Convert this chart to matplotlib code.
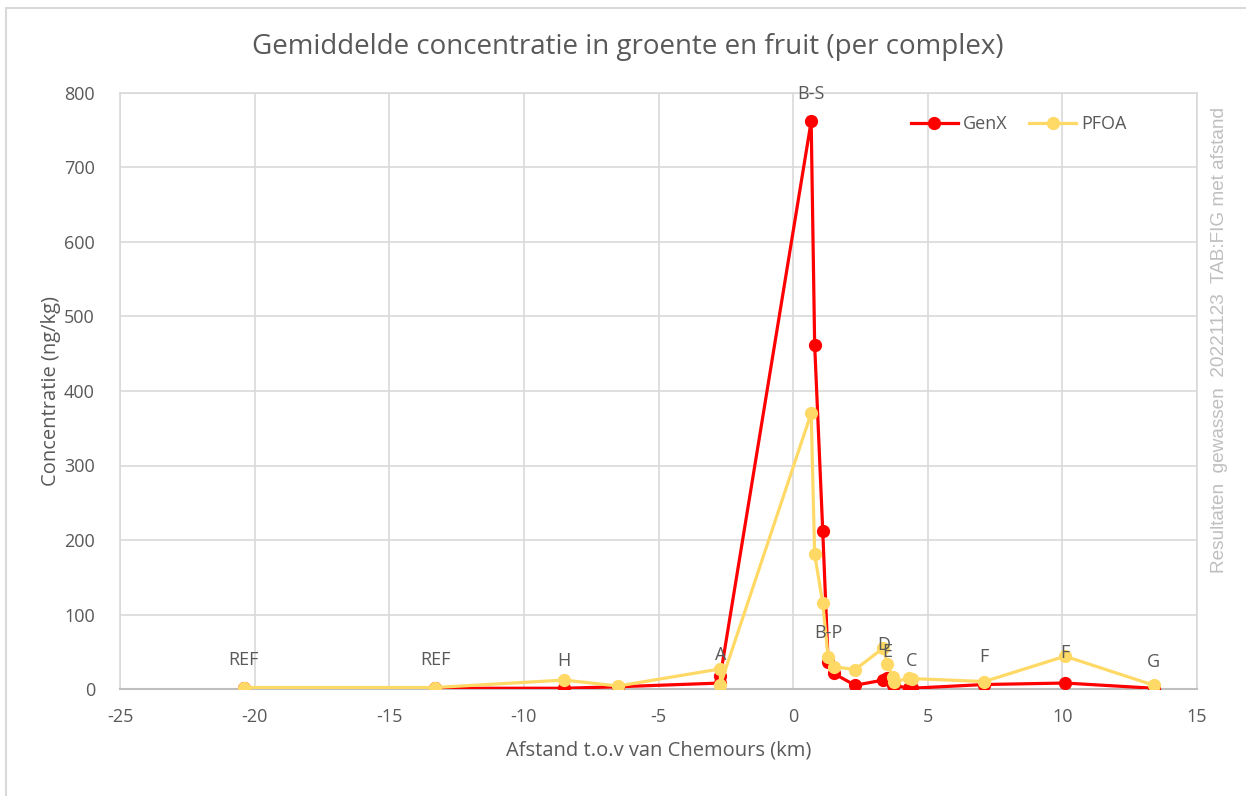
import matplotlib.pyplot as plt
from matplotlib.patches import Rectangle

# afstand t.o.v. Chemours (km), per complex
afstand = [-20.4, -13.3, -8.5, -6.5, -2.7, -2.7, 0.67, 0.8, 1.1, 1.3, 1.5,
           2.3, 3.35, 3.5, 3.7, 3.75, 4.3, 4.4, 7.1, 10.1, 13.4]
genx = [1, 1, 1, 3, 8, 18, 762, 462, 212, 36, 21, 5, 12, 15, 6, 5, 1, 1, 6, 8, 1]
pfoa = [2, 2, 12, 4, 27, 6, 370, 181, 115, 43, 30, 26, 55, 33, 16, 9, 15, 14, 10, 44, 5]

# labels: (text, index of point)
labels = [('REF', 0), ('REF', 1), ('H', 2), ('A', 4), ('B-S', 6), ('B-P', 9),
          ('E', 13), ('D', 12), ('C', 17), ('F', 18), ('F', 19), ('G', 20)]

plt.rcParams['font.family'] = ['Open Sans', 'DejaVu Sans']
plt.rcParams['axes.unicode_minus'] = False

W, H = 1246, 796
fig = plt.figure(figsize=(W / 100, H / 100), dpi=100)
ax = fig.add_axes([120 / W, 1 - 689 / H, (1197 - 120) / W, (689 - 93) / H])

red = '#FF0000'
gold = '#FFD966'
txt = '#595959'

ax.plot(afstand, genx, '-o', color=red, lw=2.3, ms=8.5, label='GenX', zorder=3)
ax.plot(afstand, pfoa, '-o', color=gold, lw=2.3, ms=8.5, label='PFOA', zorder=4)

# label offsets in points (above the higher marker)
offs = {0: 20, 1: 20, 2: 14, 4: 10, 6: 20, 9: 17, 13: 9, 12: 2, 17: 13, 18: 18, 19: 2, 20: 17}
for name, i in labels:
    y = max(genx[i], pfoa[i])
    ax.annotate(name, (afstand[i], y), xytext=(0, offs[i]), textcoords='offset points',
                ha='center', va='center', fontsize=13, color=txt, zorder=5)

ax.set_xlim(-25, 15)
ax.set_ylim(0, 800)
ax.set_xticks(range(-25, 16, 5))
ax.set_yticks(range(0, 801, 100))
ax.grid(True, color='#D9D9D9', lw=1.2)
ax.set_axisbelow(True)
for s in ['top', 'left', 'right']:
    ax.spines[s].set_color('#D9D9D9')
    ax.spines[s].set_linewidth(1.2)
ax.spines['bottom'].set_color('#BFBFBF')
ax.spines['bottom'].set_linewidth(1.5)
ax.tick_params(length=0, labelsize=13, colors=txt, pad=14)
ax.tick_params(axis='y', pad=18)

ax.set_xlabel('Afstand t.o.v van Chemours (km)', fontsize=14.5, color=txt, labelpad=10)
ax.set_ylabel('Concentratie (ng/kg)', fontsize=14.5, color=txt, labelpad=2)

fig.text(628 / W, 1 - 47 / H, 'Gemiddelde concentratie in groente en fruit (per complex)',
         ha='center', va='center', fontsize=20, color=txt)

fig.text(1219 / W, 1 - 340 / H, 'Resultaten  gewassen  20221123  TAB:FIG met afstand',
         rotation=90, ha='center', va='center', fontsize=13.7, color='#BFBFBF',
         family='Liberation Sans')

ax.legend(loc='center right', bbox_to_anchor=(0.935, 0.948), ncol=2, frameon=False,
          borderaxespad=0, borderpad=0, fontsize=13, handlelength=2.6,
          columnspacing=1.2, handletextpad=0.3, labelcolor=txt)

fig.patches.append(Rectangle((6 / W, -0.1), 1.2, 1 - 8 / H + 0.1, transform=fig.transFigure,
                             fill=False, ec='#D9D9D9', lw=1.5))

fig.savefig('out.png', dpi=100)
